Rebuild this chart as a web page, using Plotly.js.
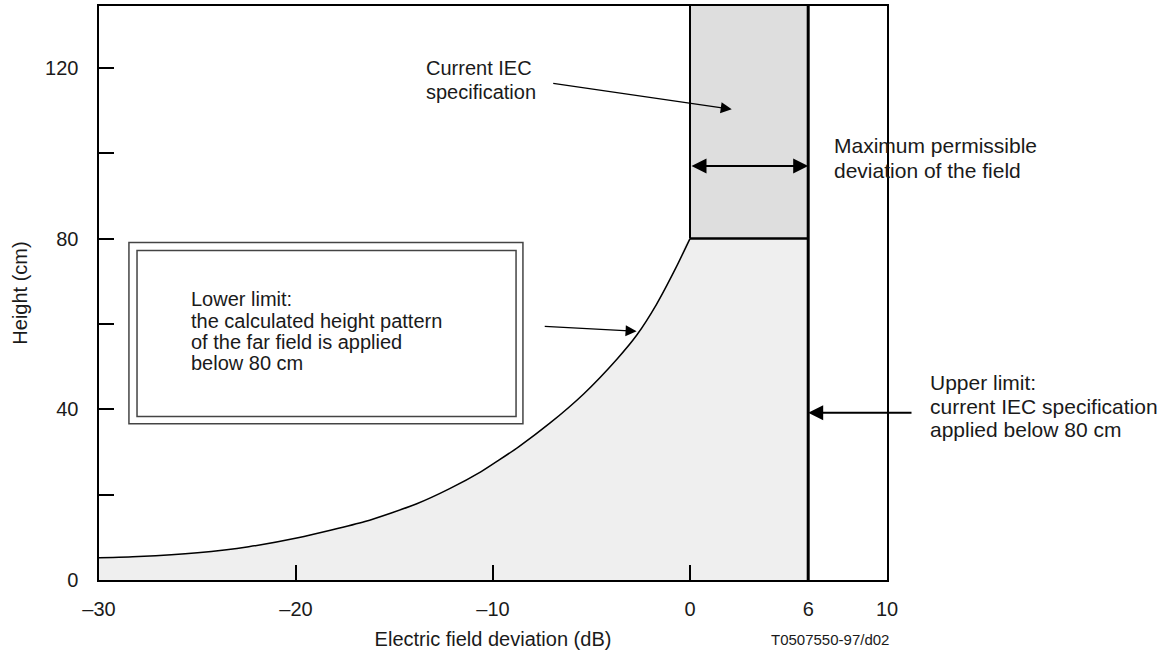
<!DOCTYPE html>
<html>
<head>
<meta charset="utf-8">
<script src="https://cdn.plot.ly/plotly-3.0.1.min.js"></script>
<style>html,body{margin:0;padding:0;background:#fff;}#chart{width:1165px;height:657px;}</style>
</head>
<body>
<div id="chart"></div>
<script>
// ---- data ----
const curveX = [-30, -28, -25, -22.4, -19.9, -16.5, -13.9, -12.2, -10.6, -9.7, -8.7, -7.1, -5.4, -3.7, -2.7, -1.7, -0.7, 0];
const curveY = [5.2, 5.5, 6.4, 7.8, 9.9, 13.7, 17.8, 21.4, 25.4, 28.1, 31.2, 36.8, 43.6, 51.8, 57.4, 64.6, 73.3, 80];
const specLow = 0;          // dB
const specHigh = 6;         // dB
const specHeight = 80;      // cm
const yMax = 134.5;
const xTickVals = [-30, -20, -10, 0, 6, 10];
const xTickText = ['\u201330', '\u201320', '\u201310', '0', '6', '10'];
const yTickVals = [0, 20, 40, 60, 80, 100, 120];
const yTickText = ['0', '', '40', '', '80', '', '120'];

const FONT = 'Liberation Sans, Arial, Helvetica, sans-serif';
const TXT = '#1a1a1a';

const traces = [
  { // light grey area below the lower limit curve and below 80 cm
    x: curveX.concat([specHigh]), y: curveY.concat([specHeight]),
    type: 'scatter', mode: 'lines', fill: 'tozeroy', fillcolor: '#efefef',
    line: {width: 0, color: 'rgba(0,0,0,0)', shape: 'spline', smoothing: 0.6}, hoverinfo: 'skip'
  },
  { // current IEC specification block
    x: [specLow, specLow, specHigh, specHigh], y: [specHeight, yMax, yMax, specHeight],
    type: 'scatter', mode: 'lines', fill: 'toself', fillcolor: '#dedede',
    line: {width: 0, color: 'rgba(0,0,0,0)'}, hoverinfo: 'skip'
  },
  { // lower limit curve
    x: curveX, y: curveY, type: 'scatter', mode: 'lines',
    line: {color: '#000', width: 1.5, shape: 'spline', smoothing: 0.6}
  },
  { // 80 cm line
    x: [specLow, specHigh], y: [specHeight, specHeight], type: 'scatter', mode: 'lines',
    line: {color: '#000', width: 2.5}
  },
  { // 0 dB line above 80 cm
    x: [specLow, specLow], y: [specHeight, yMax], type: 'scatter', mode: 'lines',
    line: {color: '#000', width: 2}
  },
  { // upper limit 6 dB
    x: [specHigh, specHigh], y: [0, yMax], type: 'scatter', mode: 'lines',
    line: {color: '#000', width: 3}
  }
];

function txt(x, y, s, size, xref) {
  return {x: x, y: y, xref: xref || 'x', yref: 'y', text: s, showarrow: false,
          xanchor: 'left', yanchor: 'middle', align: 'left',
          font: {family: FONT, size: size || 20, color: TXT}};
}
function arrow(x, y, ax, ay, w, sz, side) {
  return {x: x, y: y, ax: ax, ay: ay, xref: 'x', yref: 'y', axref: 'x', ayref: 'y',
          text: '', showarrow: true, arrowhead: 2, arrowsize: sz, arrowwidth: w,
          arrowcolor: '#000', standoff: 0, startstandoff: 0, arrowside: side || 'end'};
}

const annotations = [
  txt(-13.5, 119.9, 'Current IEC'),
  txt(-13.5, 114.3, 'specification'),
  arrow(2.12, 110.3, -7.02, 116.4, 1.3, 1.7),
  txt(7.19, 101.7, 'Maximum permissible', 21),
  txt(7.19, 95.85, 'deviation of the field', 21),
  arrow(specHigh, 97.0, specLow, 97.0, 2, 1.5, 'end+start'),
  txt(1.0524, 46.24, 'Upper limit:', 21, 'paper'),
  txt(1.0524, 40.68, 'current IEC specification', 21, 'paper'),
  txt(1.0524, 35.21, 'applied below 80 cm', 21, 'paper'),
  arrow(specHigh, 39.2, 11.32, 39.2, 2, 1.5),
  txt(-25.43, 65.73, 'Lower limit:'),
  txt(-25.43, 60.8, 'the calculated height pattern'),
  txt(-25.43, 55.87, 'of the far field is applied'),
  txt(-25.43, 50.94, 'below 80 cm'),
  arrow(-2.71, 58.29, -7.45, 59.46, 1.3, 1.7),
  {x: 0.928, y: -0.1045, xref: 'paper', yref: 'paper', text: 'T0507550-97/d02', showarrow: false,
   xanchor: 'center', yanchor: 'middle', font: {family: FONT, size: 15, color: TXT}}
];

const shapes = [
  {type: 'rect', xref: 'x', yref: 'y', x0: -28.48, x1: -8.48, y0: 36.6, y1: 79.1,
   line: {color: '#444', width: 1.5}, fillcolor: 'rgba(0,0,0,0)'},
  {type: 'rect', xref: 'x', yref: 'y', x0: -28.07, x1: -8.83, y0: 38.3, y1: 77.2,
   line: {color: '#444', width: 1.5}, fillcolor: 'rgba(0,0,0,0)'}
];

const layout = {
  width: 1165, height: 657,
  margin: {l: 99, r: 278, t: 6, b: 77},
  paper_bgcolor: '#fff', plot_bgcolor: '#fff',
  showlegend: false,
  font: {family: FONT, size: 20, color: TXT},
  xaxis: {
    range: [-30, 10], tickmode: 'array', tickvals: xTickVals, ticktext: xTickText,
    ticks: 'inside', ticklen: 15, tickwidth: 2, tickcolor: '#000',
    showline: true, mirror: true, linecolor: '#000', linewidth: 2,
    showgrid: false, zeroline: false, ticklabelstandoff: 10,
    tickfont: {family: FONT, size: 20, color: TXT},
    title: {text: 'Electric field deviation (dB)', standoff: 13, font: {family: FONT, size: 20, color: TXT}}
  },
  yaxis: {
    range: [0, yMax], tickmode: 'array', tickvals: yTickVals, ticktext: yTickText,
    ticks: 'inside', ticklen: 15, tickwidth: 2, tickcolor: '#000',
    showline: true, mirror: true, linecolor: '#000', linewidth: 1.6,
    showgrid: false, zeroline: false, ticklabelstandoff: 15,
    tickfont: {family: FONT, size: 20, color: TXT},
    title: {text: 'Height (cm)', standoff: 12, font: {family: FONT, size: 20, color: TXT}}
  },
  annotations: annotations,
  shapes: shapes
};

Plotly.newPlot('chart', traces, layout, {staticPlot: true, displayModeBar: false});
</script>
</body>
</html>
